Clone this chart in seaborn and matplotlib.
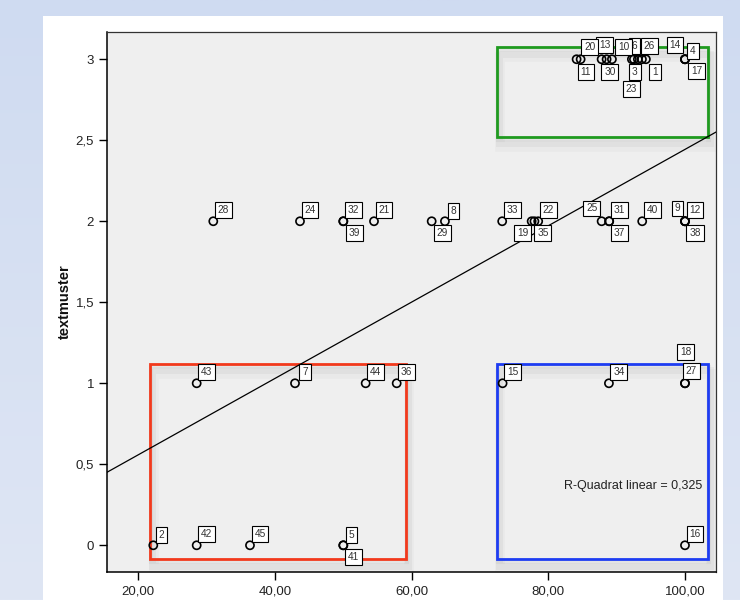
import numpy as np
import pandas as pd
import matplotlib
matplotlib.use("Agg")
import matplotlib.pyplot as plt
from matplotlib.patches import Rectangle
from matplotlib.colors import LinearSegmentedColormap
import seaborn as sns

# ---- data -------------------------------------------------------------
case_ids = list(range(1, 46))
x_values = [94.28, 22.19, 92.23, 100.0, 50.0, 92.53, 42.93, 64.87, 100.0, 89.31,
            84.14, 100.0, 87.80, 100.0, 73.31, 100.0, 100.0, 100.0, 77.56, 84.73,
            54.49, 78.52, 93.11, 43.66, 87.80, 93.70, 100.0, 30.97, 62.93, 88.53,
            88.91, 50.0, 73.25, 88.87, 77.97, 57.81, 88.91, 100.0, 50.0, 93.74,
            50.0, 28.54, 28.54, 53.27, 36.34]
y_values = [3, 0, 3, 3, 0, 3, 1, 2, 2, 3,
            3, 2, 3, 3, 1, 0, 3, 1, 2, 3,
            2, 2, 3, 2, 2, 3, 1, 2, 2, 3,
            2, 2, 2, 1, 2, 1, 2, 2, 2, 2,
            0, 0, 1, 1, 0]
y_ticks = [0, 0.5, 1, 1.5, 2, 2.5, 3]
y_tick_labels = ["0", "0,5", "1", "1,5", "2", "2,5", "3"]
x_ticks = [20, 40, 60, 80, 100]
x_tick_labels = ["20,00", "40,00", "60,00", "80,00", "100,00"]
r_squared = 0.325

df = pd.DataFrame({"case": case_ids, "x": x_values, "textmuster": y_values})

# label box offsets in pixels (default: upper right of the point)
label_offsets = {1: (9, -12.5), 2: (8, 10), 3: (3, -12.5), 4: (8, 8), 5: (8, 10),
                 6: (0.5, 13.5), 8: (8.5, 10), 9: (-7.5, 12.8), 10: (11.5, 12.5),
                 11: (9.3, -12.5), 13: (3.3, 14.5), 14: (-10, 14), 17: (11.5, -12),
                 18: (0.5, 31), 19: (-8.7, -12), 20: (9.3, 12), 23: (-6.5, -29.5),
                 25: (-9.7, 12.8), 26: (7.5, 13.5), 27: (6.5, 12), 29: (10.8, -12),
                 30: (3.3, -12.5), 35: (8.5, -12), 37: (10, -12), 38: (10, -12),
                 39: (11, -12), 41: (10.5, -12)}
default_offset = (10, 11)

plt.rcParams["font.family"] = ["Liberation Sans", "DejaVu Sans"]

W, H = 740, 600
fig = plt.figure(figsize=(W / 100, H / 100), dpi=100)

# light blue backdrop with a soft vertical gradient
bg = fig.add_axes([0, 0, 1, 1], zorder=-10)
grad = np.linspace(0, 1, 256).reshape(-1, 1)
cmap_bg = LinearSegmentedColormap.from_list("bg", ["#cfdbf1", "#dfe6f4"])
bg.imshow(grad, aspect="auto", cmap=cmap_bg, extent=[0, 1, 0, 1], origin="upper")
bg.axis("off")

# white panel behind the chart
fig.patches.append(Rectangle((43 / W, 0), (723 - 43) / W, (600 - 16) / H,
                             transform=fig.transFigure, facecolor="white",
                             edgecolor="none", zorder=-5))

ax = fig.add_axes([107.3 / W, (600 - 571.7) / H, (716 - 107.3) / W, (571.7 - 31.7) / H])
ax.set_facecolor("#efefef")
ax.set_xlim(15.46, 104.54)
ax.set_ylim(-0.163, 3.17)

# colored group frames with a soft drop shadow
frames = [((72.5, 2.52), 103.4 - 72.5, 3.074 - 2.52, "#1f9a1f"),
          ((21.75, -0.086), 59.2 - 21.75, 1.12 + 0.086, "#f2391c"),
          ((72.5, -0.086), 103.4 - 72.5, 1.12 + 0.086, "#1d3cf2")]
for (x0, y0), w, h, col in frames:
    for k, a in [(6, 0.025), (4, 0.035), (2, 0.045)]:
        ax.add_patch(Rectangle((x0 + 0.08 * k, y0 - 0.01 * k), w, h, fill=False,
                               edgecolor="black", alpha=a, linewidth=1 + k, zorder=1))
    ax.add_patch(Rectangle((x0, y0), w, h, fill=False, edgecolor=col,
                           linewidth=2, zorder=2))

# fit line
sns.regplot(data=df, x="x", y="textmuster", ax=ax, scatter=False, ci=None,
            truncate=False, line_kws=dict(color="black", linewidth=0.9, zorder=3))

# points
sns.scatterplot(data=df, x="x", y="textmuster", ax=ax, marker="o", s=34,
                facecolor="none", edgecolor="black", linewidth=1.2, zorder=4)

# case labels
for cid, xv, yv in zip(case_ids, x_values, y_values):
    dx, dy = label_offsets.get(cid, default_offset)
    ax.annotate(str(cid), (xv, yv), xytext=(dx, dy), textcoords="offset pixels",
                ha="center", va="center", fontsize=7.3, color="#333333", zorder=6,
                bbox=dict(boxstyle="square,pad=0.28", facecolor="white",
                          edgecolor="black", linewidth=0.8))

ax.text(102.6, 0.366, f"R-Quadrat linear = {r_squared:.3f}".replace(".", ","),
        ha="right", va="center", fontsize=9, color="#222222", zorder=5)

ax.set_xticks(x_ticks)
ax.set_xticklabels(x_tick_labels)
ax.set_yticks(y_ticks)
ax.set_yticklabels(y_tick_labels)
ax.tick_params(axis="both", direction="out", length=6, width=1, labelsize=9.5,
               labelcolor="#222222", color="black")
ax.tick_params(axis="x", pad=4)
ax.set_xlabel("")
ax.set_ylabel("textmuster", fontsize=10.5, fontweight="bold", color="#111111")
ax.yaxis.set_label_coords(-0.058, 0.5)
for side in ["top", "right"]:
    ax.spines[side].set_color("#333333")
    ax.spines[side].set_linewidth(0.9)
for side in ["left", "bottom"]:
    ax.spines[side].set_color("black")
    ax.spines[side].set_linewidth(1.1)

fig.savefig("out.png", dpi=100)
